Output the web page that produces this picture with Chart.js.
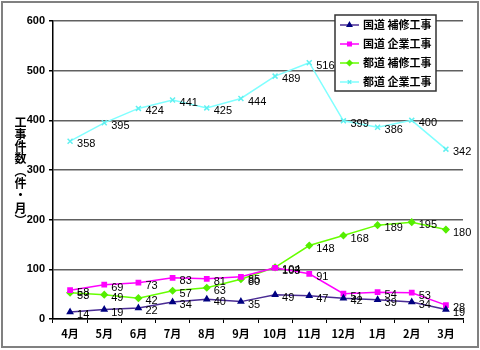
<!DOCTYPE html>
<html>
<head>
<meta charset="utf-8">
<script src="https://cdn.jsdelivr.net/npm/chart.js@4"></script>
<style>
  body { margin: 0; background: #fff; }
  #wrap { position: relative; width: 480px; height: 350px; }
  #ytitle {
    position: absolute; left: 12px; top: 116px;
    writing-mode: vertical-rl; font: bold 12px "Noto Sans CJK JP", sans-serif;
    letter-spacing: 0.3px; color: #000; line-height: 16px;
  }
</style>
</head>
<body>
<div id="wrap">
  <canvas id="chart" width="480" height="350"></canvas>
  <div id="ytitle">工事件数（件・月）</div>
</div>
<script>
const months = ['4月', '5月', '6月', '7月', '8月', '9月', '10月', '11月', '12月', '1月', '2月', '3月'];
const seriesNames = ['国道 補修工事', '国道 企業工事', '都道 補修工事', '都道 企業工事'];
const kokudoHoshu = [14, 19, 22, 34, 40, 35, 49, 47, 42, 39, 34, 19];
const kokudoKigyo = [58, 69, 73, 83, 81, 85, 103, 91, 51, 54, 53, 28];
const todoHoshu = [53, 49, 42, 57, 63, 80, 104, 148, 168, 189, 195, 180];
const todoKigyo = [358, 395, 424, 441, 425, 444, 489, 516, 399, 386, 400, 342];
const yTicks = [0, 100, 200, 300, 400, 500, 600];

const styles = [
  { line: '#4a2c94', point: '#000080', shape: 'triangle', r: 3 },
  { line: '#ff00ff', point: '#ff00ff', shape: 'rect', r: 3 },
  { line: '#66ff00', point: '#55ee00', shape: 'rectRot', r: 3 },
  { line: '#80ffff', point: '#60f0f0', shape: 'crossRot', r: 3.5 }
];
const allData = [kokudoHoshu, kokudoKigyo, todoHoshu, todoKigyo];

const datasets = allData.map((d, i) => ({
  label: seriesNames[i],
  data: d,
  borderColor: styles[i].line,
  backgroundColor: styles[i].point,
  pointBorderColor: styles[i].point,
  pointBackgroundColor: styles[i].point,
  pointStyle: styles[i].shape,
  pointRadius: styles[i].r,
  borderWidth: 1.5,
  tension: 0
}));

// frame, value labels and legend box
const extras = {
  id: 'extras',
  afterDatasetsDraw(chart) {
    const ctx = chart.ctx;
    ctx.save();
    ctx.font = '11px "Liberation Sans", Arial, sans-serif';
    ctx.fillStyle = '#000';
    ctx.textAlign = 'left';
    ctx.textBaseline = 'middle';
    chart.data.datasets.forEach((ds, i) => {
      chart.getDatasetMeta(i).data.forEach((pt, j) => {
        ctx.fillText(ds.data[j], pt.x + 7, pt.y + 3);
      });
    });

    // legend
    const lx = 335, ly = 15, lw = 101, lh = 76;
    ctx.fillStyle = '#fff';
    ctx.fillRect(lx, ly, lw, lh);
    ctx.strokeStyle = '#333';
    ctx.lineWidth = 1.5;
    ctx.strokeRect(lx, ly, lw, lh);
    ctx.font = 'bold 11px "Noto Sans CJK JP", sans-serif';
    chart.data.datasets.forEach((ds, i) => {
      const y = ly + 10 + i * 19;
      ctx.strokeStyle = ds.borderColor;
      ctx.lineWidth = 1.5;
      ctx.beginPath();
      ctx.moveTo(lx + 5, y);
      ctx.lineTo(lx + 24, y);
      ctx.stroke();
      ctx.fillStyle = ds.pointBackgroundColor;
      ctx.strokeStyle = ds.pointBorderColor;
      Chart.helpers.drawPoint(ctx, {
        pointStyle: ds.pointStyle, radius: 2.5, borderWidth: 1.5, rotation: 0
      }, lx + 14.5, y);
      ctx.fillStyle = '#000';
      ctx.fillText(ds.label, lx + 28, y);
    });

    // outer frame
    ctx.strokeStyle = '#808080';
    ctx.lineWidth = 2;
    ctx.strokeRect(2, 2, 476, 345);
    ctx.restore();
  }
};

new Chart(document.getElementById('chart'), {
  type: 'line',
  data: { labels: months, datasets: datasets },
  options: {
    responsive: false,
    animation: false,
    layout: { padding: { top: 21, right: 17, left: 0, bottom: 0 } },
    plugins: { legend: { display: false }, tooltip: { enabled: false } },
    scales: {
      x: {
        offset: true,
        grid: { display: true, offset: true, drawOnChartArea: false, color: '#000', tickLength: 4 },
        border: { color: '#000', width: 1.5 },
        ticks: { color: '#000', font: { size: 11, weight: 'bold', family: '"Noto Sans CJK JP", sans-serif' }, padding: 4, maxRotation: 0 },
        afterFit(scale) { scale.height = 31; }
      },
      y: {
        min: 0,
        max: 600,
        afterBuildTicks(scale) { scale.ticks = yTicks.map(v => ({ value: v })); },
        grid: { color: '#606060', lineWidth: 1.5, tickLength: 4, tickColor: '#000' },
        border: { color: '#000', width: 1.5 },
        ticks: { color: '#000', font: { size: 11, weight: 'bold', family: '"Liberation Sans", Arial, sans-serif' }, padding: 4 },
        afterFit(scale) { scale.width = 53; }
      }
    }
  },
  plugins: [extras]
});
</script>
</body>
</html>
